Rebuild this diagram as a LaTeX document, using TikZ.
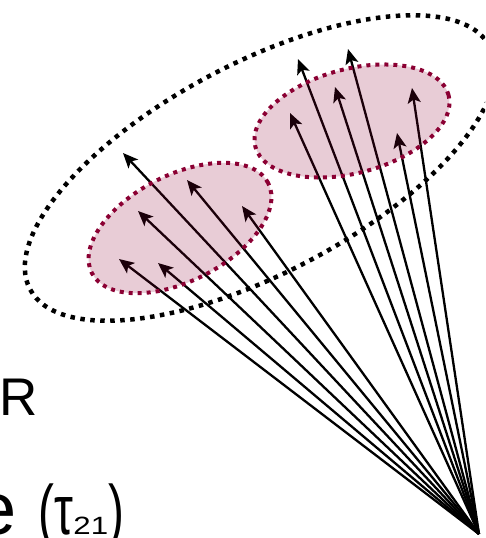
\documentclass[tikz,border=0pt]{standalone}
\usepackage{fontspec}
\usepackage{graphicx}
\setmainfont{Liberation Sans}
\usetikzlibrary{arrows.meta}
\definecolor{grpred}{RGB}{139,0,51}
\tikzset{
  outerset/.style={draw=black, line width=4.5pt, dash pattern=on 4.5pt off 5.5pt},
  groupset/.style={draw=grpred, line width=4pt, dash pattern=on 4pt off 5pt, fill=grpred, fill opacity=0.2, draw opacity=1},
  ray/.style={line width=2.3pt, -{Stealth[length=15pt,width=13pt,inset=3.5pt]}},
  lbl/.style={inner sep=0pt, outer sep=0pt}
}
\newcommand{\bigtxt}[1]{\scalebox{0.68}[1]{\fontsize{70}{70}\selectfont #1}}
\newcommand{\subtxt}[1]{\scalebox{1.25}[1]{\fontsize{25}{25}\selectfont #1}}
\begin{document}
\begin{tikzpicture}[x=1pt,y=-1pt]
\useasboundingbox (0,0) rectangle (485,538);
\clip (0,0) rectangle (485,538);
% outer dotted ellipse
\draw[outerset, rotate around={27.8:(260,168)}] (260,168) ellipse [x radius=260pt, y radius=105pt];
% origin and tips
\coordinate (o) at (479,534);
\coordinate (l1) at (123,153);
\coordinate (l2) at (187,180);
\coordinate (l3) at (138,211);
\coordinate (l4) at (242,206);
\coordinate (l5) at (119,259);
\coordinate (l6) at (158,263);
\coordinate (r1) at (298,59);
\coordinate (r2) at (348,49);
\coordinate (r3) at (335,87);
\coordinate (r4) at (290,113);
\coordinate (r5) at (412,88);
\coordinate (r6) at (397,133);
\foreach \t in {l1,l2,l3,l4,l5,l6,r1,r2,r3,r4,r5,r6}{
  \draw[ray] (o) -- (\t);
}
% group ellipses
\path[groupset, rotate around={27:(180,228)}] (180,228) ellipse [x radius=99pt, y radius=53pt];
\path[groupset, rotate around={15:(352,121)}] (352,121) ellipse [x radius=100pt, y radius=52pt];
% texts
\node[lbl, anchor=base west, font=\fontsize{53}{53}\selectfont] (tR) at (-1,415) {R};
\node[lbl, anchor=base east] (tE) at (124,534) {{\fontsize{74}{74}\selectfont e}\hspace{22pt}\bigtxt{(τ}\subtxt{21}\bigtxt{)}};
\end{tikzpicture}
\end{document}
